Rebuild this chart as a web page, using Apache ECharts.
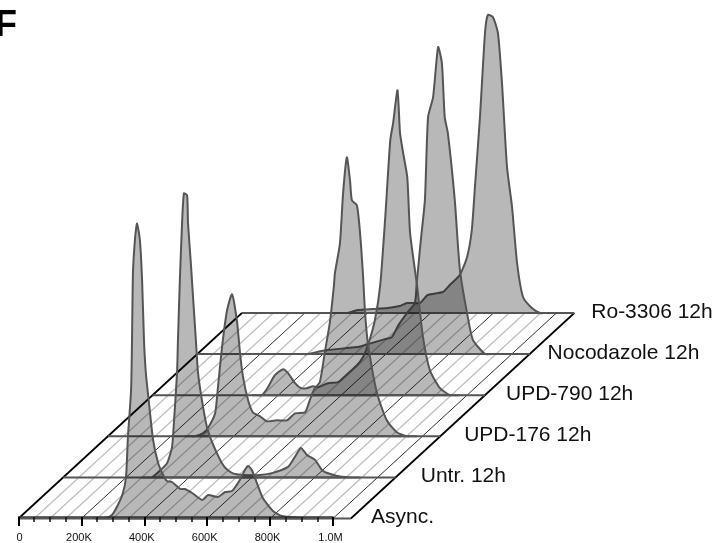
<!DOCTYPE html>
<html>
<head>
<meta charset="utf-8">
<style>html,body{margin:0;padding:0;background:#fff}#c{width:721px;height:543px}</style>
<script src="https://cdn.jsdelivr.net/npm/echarts@6/dist/echarts.min.js"></script>
</head>
<body>
<div id="c"></div>
<script>
// row names, front to back
const rowNames = ['Async.', 'Untr. 12h', 'UPD-176 12h', 'UPD-790 12h', 'Nocodazole 12h', 'Ro-3306 12h'];
const tickValues = [0, 200, 400, 600, 800, 1000];
const minorValues = [50, 100, 150, 250, 300, 350, 450, 500, 550, 650, 700, 750, 850, 900, 950];

// DNA content (thousands) and cell counts of each histogram
const asyncK = [275,297,316,332,342,348,358,361,364,371,377,386,393,399,405,415,428,444,460,472,488,514,529,552,584,603,634,657,679,704,720,730,742,758,777,809,838,917];
const asyncN = [0,3.5,13.5,25.5,41.5,81.5,128.5,178.5,245.5,281.5,295,278.5,238.5,178.5,145.5,115.5,78.5,55.5,43.5,37.5,36.5,29.5,29.5,25.5,18.5,23.5,21.5,26.5,27.5,38.5,48.5,52.5,48.5,35.5,20.5,7.5,2.5,0];
const untrK = [282,308,330,346,352,362,365,371,378,384,394,397,406,413,422,429,445,460,489,514,540,572,626,667,715,737,756,775,801,826,871,912];
const untrN = [0,7,14,30,54,104,137,197,254,284,282,254,214,180,137,104,70,47,24,10,4,2.5,2.5,4.5,10.5,20.5,29.5,22.5,17.5,6.5,1.5,0];
const upd176K = [277,302,318,341,350,363,379,395,411,420,430,446,461,484,506,538,570,595,627,642,658,674,690,706,719,722,738,748,760,770,776,792,802,811,818,827,856,887,919,951];
const upd176N = [0,3,8,23,49,89,126,142,114,84,59,36,24,20,15,16,16,23,24,36,48,54,84,114,151,163,193,243,279,256,236,231,203,163,123,93,43,16,4,0];
const upd790K = [348,367,389,415,431,453,472,491,510,526,558,590,612,650,669,685,707,724,740,756,765,779,787,797,810,819,841,860,882,914,946];
const upd790N = [0,8,20,26,22,12,7,7,9,8,12,13,19,30,38,50,75,110,178,255,272,305,262,242,218,162,110,58,25,7,0];
const nocoK = [352,412,508,543,597,619,640,667,692,698,711,724,734,750,766,778,787,797,819,835,858,877,915];
const nocoN = [0,4,7,10,15,17,29,41,51,71,114,154,237,257,307,291,237,221,154,85,41,14,0];
const roK = [334,369,417,464,502,525,566,591,639,661,693,716,731,741,757,773,782,798,814,827,843,859,875,894,922,948];
const roN = [0,3,4,5,7,10,10,18,21,28,38,56,83,126,196,280,298,296,280,230,146,106,50,16,5,0];

const histK = [asyncK, untrK, upd176K, upd790K, nocoK, roK];
const histN = [asyncN, untrN, upd176N, upd790N, nocoN, roN];

// layout
const planeEnd = 1057, rowK = 142.1, rowN = 41.1;
const labelGap = [64, 80, 76, 67, 57, 54];
const place = (api, k, n, r) => api.coord([k + r * rowK, n + r * rowN]);
const LINE = '#555';

const plane = (params, api) => {
  const kids = [];
  const seg = (a, b, style) => ({type: 'line', shape: {x1: a[0], y1: a[1], x2: b[0], y2: b[1]}, style});
  minorValues.forEach(k => kids.push(seg(place(api, k, 0, 0), place(api, k, 0, 5), {stroke: '#bcbcbc', lineWidth: 1.1})));
  tickValues.forEach((k, i) => kids.push(seg(place(api, k, 0, 0), place(api, k, 0, 5), {stroke: i ? '#333' : '#000', lineWidth: i ? 1 : 1.7})));
  kids.push(seg(place(api, planeEnd, 0, 0), place(api, planeEnd, 0, 5), {stroke: '#000', lineWidth: 1.7}));
  rowNames.forEach((_, r) => kids.push(seg(place(api, 0, 0, r), place(api, planeEnd, 0, r), {stroke: LINE, lineWidth: 2})));
  return {type: 'group', children: kids};
};

// flat feet along the baseline keep the smoothed outline from dipping under it
const curve = r => (params, api) => {
  const K = histK[r], N = histN[r], last = K.length - 1;
  const pts = [[K[0] - 30, 0], [K[0] - 15, 0]].concat(K.map((k, i) => [k, N[i]]), [[K[last] + 15, 0], [K[last] + 30, 0]]);
  return {
    type: 'polygon',
    shape: {points: pts.map(p => place(api, p[0], p[1], r)), smooth: 0.2},
    style: {fill: 'rgba(0,0,0,0.28)', stroke: LINE, lineWidth: 2, lineJoin: 'round'}
  };
};

const labels = (params, api) => {
  const r = api.value(0);
  const p = place(api, planeEnd + labelGap[r], 0, r);
  return {type: 'text', x: p[0], y: p[1] - 1, style: {text: rowNames[r], fill: '#111', fontSize: 21, fontFamily: 'Liberation Sans', align: 'left', verticalAlign: 'middle'}};
};

const base = {type: 'custom', xAxisIndex: 0, yAxisIndex: 0, clip: false, silent: true, animation: false};
const series = [Object.assign({}, base, {renderItem: plane, data: [[0]], z: 1})];
[5, 4, 3, 2, 1, 0].forEach((r, i) => series.push(Object.assign({}, base, {name: rowNames[r], renderItem: curve(r), data: [[r]], z: 2 + i})));
series.push(Object.assign({}, base, {renderItem: labels, data: rowNames.map((_, r) => [r]), z: 20}));

const chart = echarts.init(document.getElementById('c'), null, {renderer: 'canvas'});
chart.setOption({
  animation: false,
  backgroundColor: '#fff',
  title: {text: 'F', left: -10, top: 3, textStyle: {fontSize: 36, fontWeight: 'bold', color: '#000', fontFamily: 'Liberation Sans'}},
  grid: [
    {left: 0, top: 0, width: 721, height: 543},
    {left: 18.5, top: 508.5, width: 314.5, height: 10, z: 15}
  ],
  xAxis: [
    {gridIndex: 0, type: 'value', min: -58.83, max: 2234, show: false},
    {gridIndex: 1, type: 'value', min: 0, max: 1000, interval: 200, position: 'bottom', z: 15,
     axisLine: {show: true, lineStyle: {color: '#333', width: 1.5}},
     axisTick: {show: true, length: 9, inside: false, lineStyle: {color: '#000', width: 2}},
     minorTick: {show: true, splitNumber: 4, length: 5, lineStyle: {color: '#111', width: 1.5}},
     splitLine: {show: false}, minorSplitLine: {show: false},
     axisLabel: {show: true, margin: 15, fontSize: 11, color: '#111', fontFamily: 'Liberation Sans', hideOverlap: false, showMinLabel: true, showMaxLabel: true,
       formatter: v => v === 0 ? '{z|0}' : '{a|' + (v === 1000 ? '1.0M' : v + 'K') + '}',
       rich: {a: {fontSize: 11, color: '#111', fontFamily: 'Liberation Sans', padding: [0, 5, 0, 0]}, z: {fontSize: 11, color: '#111', fontFamily: 'Liberation Sans', padding: [0, 0, 0, 2]}}}}
  ],
  yAxis: [
    {gridIndex: 0, type: 'value', min: -24.5, max: 518.5, show: false},
    {gridIndex: 1, type: 'value', min: 0, max: 1, show: false}
  ],
  series
});
</script>
</body>
</html>
